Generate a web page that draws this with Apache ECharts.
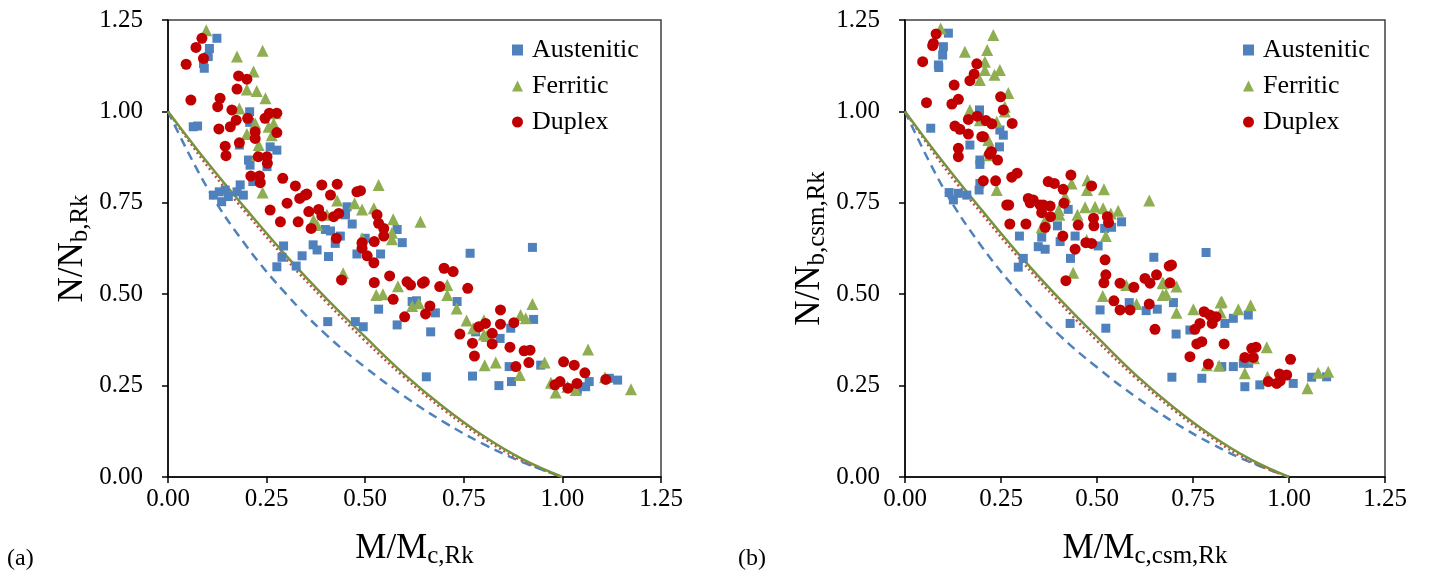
<!DOCTYPE html>
<html>
<head>
<meta charset="utf-8">
<script src="https://cdn.jsdelivr.net/npm/echarts@6/dist/echarts.min.js"></script>
<style>
html,body{margin:0;padding:0;background:#fff;}
#chart{width:1432px;height:577px;}
</style>
</head>
<body>
<div id="chart"></div>
<script>
// ---------- data: panel (a) ----------
const aAust = [[0.124,1.20],[0.105,1.172],[0.102,1.15],[0.09,1.131],[0.092,1.118],
[0.064,0.958],[0.075,0.96],[0.207,0.999],[0.207,0.97],[0.259,0.903],[0.276,0.894],[0.181,0.908],[0.204,0.867],[0.208,0.853],[0.251,0.849],[0.215,0.808],
[0.115,0.771],[0.145,0.785],[0.153,0.767],[0.183,0.799],[0.191,0.771],[0.136,0.753],[0.13,0.78],[0.175,0.78],
[0.454,0.739],[0.45,0.717],[0.467,0.692],[0.399,0.677],[0.412,0.673],[0.424,0.639],[0.437,0.659],[0.581,0.677],[0.594,0.641],[0.539,0.61],[0.479,0.61],[0.5,0.653],
[0.293,0.632],[0.368,0.635],[0.378,0.621],[0.34,0.605],[0.407,0.603],[0.289,0.601],[0.276,0.575],[0.325,0.577],
[0.766,0.612],[0.534,0.459],[0.581,0.416],[0.63,0.482],[0.678,0.449],[0.733,0.48],[0.666,0.397],[0.405,0.425],[0.475,0.425],[0.495,0.411],
[0.924,0.628],[0.927,0.431],[0.869,0.407],[0.78,0.397],[0.842,0.379],[0.655,0.274],[0.772,0.276],[0.839,0.25],[0.871,0.261],[0.865,0.302],[0.945,0.306],[0.979,0.252],[1.038,0.238],[1.059,0.247],[1.068,0.261],[1.119,0.27],[1.14,0.265],[0.619,0.48]];
const aFerr = [[0.097,1.222],[0.175,1.15],[0.24,1.166],[0.217,1.109],[0.20,1.06],[0.225,1.056],[0.247,1.036],[0.181,1.008],[0.221,0.967],[0.268,0.967],[0.2,0.938],[0.263,0.935],[0.23,0.908],[0.225,0.881],[0.24,0.778],[0.272,0.995],[0.255,0.958],
[0.534,0.799],[0.429,0.756],[0.473,0.749],[0.492,0.732],[0.522,0.735],[0.403,0.717],[0.369,0.703],[0.378,0.689],[0.571,0.705],[0.568,0.668],[0.568,0.65],[0.64,0.698],[0.492,0.653],[0.444,0.557],
[0.583,0.522],[0.528,0.498],[0.545,0.5],[0.619,0.468],[0.636,0.475],[0.708,0.525],[0.708,0.498],[0.732,0.461],[0.757,0.428],[0.774,0.407],[0.801,0.429],[0.801,0.39],
[0.808,0.386],[0.803,0.306],[0.831,0.313],[0.892,0.279],[0.894,0.443],[0.907,0.434],[0.924,0.473],[0.955,0.313],[0.971,0.258],[0.983,0.231],[1.013,0.247],[1.034,0.238],[1.065,0.349],[1.108,0.273],[1.174,0.24]];
const aDup = [[0.086,1.2],[0.071,1.175],[0.09,1.145],[0.046,1.129],[0.179,1.097],[0.2,1.088],[0.175,1.061],[0.058,1.031],[0.132,1.036],[0.126,1.013],[0.162,1.004],[0.173,0.976],[0.202,0.981],[0.246,0.981],[0.257,0.995],[0.276,0.995],[0.158,0.958],[0.129,0.952],[0.221,0.944],[0.221,0.926],[0.276,0.942],[0.181,0.914],[0.145,0.905],[0.147,0.879],[0.229,0.876],[0.251,0.876],[0.252,0.858],[0.21,0.823],[0.232,0.823],[0.234,0.805],
[0.291,0.817],[0.323,0.796],[0.352,0.774],[0.334,0.762],[0.39,0.799],[0.429,0.801],[0.412,0.771],[0.479,0.78],[0.302,0.749],[0.488,0.783],[0.348,0.771],
[0.259,0.73],[0.285,0.698],[0.33,0.698],[0.357,0.726],[0.382,0.732],[0.39,0.714],[0.363,0.68],[0.42,0.712],[0.433,0.721],
[0.53,0.717],[0.534,0.694],[0.547,0.68],[0.547,0.659],[0.427,0.653],[0.492,0.641],[0.523,0.644],[0.492,0.626],[0.505,0.605],[0.522,0.586],[0.44,0.539],[0.523,0.532],[0.562,0.55],[0.606,0.534],[0.615,0.525],[0.645,0.53],[0.65,0.534],[0.689,0.521],[0.7,0.571],[0.723,0.562],[0.76,0.516],[0.571,0.486],[0.664,0.468],[0.653,0.446],[0.6,0.438],
[0.74,0.391],[0.772,0.366],[0.788,0.411],[0.805,0.42],[0.822,0.393],[0.822,0.364],[0.843,0.457],
[0.877,0.422],[0.843,0.418],[0.777,0.331],[0.867,0.355],[0.903,0.345],[0.918,0.347],[0.915,0.313],[0.882,0.302],[1.003,0.315],[1.03,0.306],[1.057,0.285],[1.11,0.267],[0.994,0.261],[0.981,0.252],[1.014,0.243],[1.037,0.256]];

// ---------- data: panel (b) ----------
const bAust = [[0.113,1.214],[0.1,1.177],[0.098,1.154],[0.087,1.127],[0.088,1.12],[0.067,0.954],[0.194,1.004],[0.194,0.99],[0.247,0.949],[0.256,0.935],[0.169,0.908],[0.246,0.903],[0.195,0.867],[0.195,0.855],
[0.115,0.778],[0.139,0.776],[0.161,0.771],[0.126,0.758],[0.193,0.785],[0.195,0.803],
[0.298,0.659],[0.356,0.656],[0.347,0.63],[0.365,0.623],[0.404,0.644],[0.397,0.687],[0.443,0.659],[0.425,0.732],[0.503,0.632],[0.538,0.683],[0.564,0.698],[0.52,0.68],[0.431,0.598],[0.308,0.598],[0.295,0.574],
[0.648,0.601],[0.784,0.614],[0.584,0.477],[0.508,0.457],[0.628,0.455],[0.657,0.459],[0.699,0.477],[0.43,0.42],[0.523,0.407],[0.706,0.391],[0.742,0.402],[0.833,0.42],
[0.855,0.434],[0.894,0.443],[0.695,0.273],[0.773,0.27],[0.825,0.302],[0.855,0.302],[0.881,0.311],[0.895,0.311],[0.885,0.247],[0.924,0.252],[1.011,0.256],[1.059,0.273],[1.098,0.274]];
const bFerr = [[0.093,1.227],[0.23,1.209],[0.156,1.163],[0.214,1.168],[0.208,1.136],[0.208,1.113],[0.195,1.086],[0.233,1.1],[0.247,1.113],[0.269,1.05],[0.26,1.013],[0.26,1.0],[0.169,1.004],[0.195,0.976],[0.239,0.972],[0.217,0.922],[0.217,0.894],[0.22,0.88],[0.239,0.785],
[0.434,0.803],[0.475,0.812],[0.474,0.785],[0.495,0.739],[0.518,0.787],[0.417,0.767],[0.636,0.756],[0.469,0.738],[0.516,0.735],[0.555,0.728],[0.536,0.721],[0.449,0.717],[0.402,0.717],[0.4,0.73],[0.365,0.703],[0.356,0.683],[0.523,0.659],[0.473,0.648],[0.438,0.559],
[0.515,0.495],[0.576,0.525],[0.603,0.473],[0.671,0.531],[0.671,0.498],[0.68,0.5],[0.707,0.521],[0.707,0.449],[0.751,0.459],[0.822,0.477],[0.822,0.45],
[0.673,0.53],[0.825,0.48],[0.868,0.459],[0.9,0.47],[0.942,0.355],[0.909,0.325],[0.786,0.306],[0.818,0.304],[0.885,0.284],[0.944,0.274],[1.048,0.243],[1.076,0.285],[1.102,0.288]];
const bDup = [[0.081,1.212],[0.074,1.186],[0.072,1.18],[0.046,1.136],[0.187,1.13],[0.18,1.102],[0.169,1.084],[0.128,1.072],[0.056,1.024],[0.139,1.033],[0.122,1.02],[0.249,1.04],[0.256,1.004],[0.165,0.978],[0.188,0.987],[0.211,0.975],[0.226,0.966],[0.279,0.967],[0.13,0.96],[0.143,0.951],[0.165,0.938],[0.2,0.931],[0.204,0.931],[0.139,0.899],[0.139,0.876],[0.22,0.883],[0.225,0.89],[0.241,0.867],
[0.204,0.81],[0.236,0.81],[0.278,0.82],[0.292,0.831],[0.373,0.808],[0.389,0.803],[0.432,0.826],[0.412,0.787],[0.486,0.796],[0.321,0.762],[0.326,0.75],[0.265,0.744],[0.27,0.744],[0.352,0.744],[0.36,0.744],[0.414,0.749],
[0.334,0.758],[0.378,0.741],[0.356,0.723],[0.379,0.712],[0.365,0.683],[0.273,0.692],[0.315,0.692],[0.451,0.689],[0.411,0.659],[0.491,0.708],[0.492,0.687],[0.527,0.712],[0.53,0.696],[0.471,0.641],[0.486,0.639],[0.443,0.623],[0.521,0.594],[0.523,0.553],[0.518,0.531],[0.419,0.537],
[0.56,0.53],[0.596,0.519],[0.625,0.543],[0.638,0.53],[0.655,0.553],[0.688,0.577],[0.694,0.58],[0.69,0.531],[0.544,0.482],[0.56,0.457],[0.586,0.457],[0.636,0.473],[0.651,0.404],
[0.755,0.404],[0.768,0.42],[0.779,0.452],[0.794,0.443],[0.81,0.438],[0.8,0.42],[0.76,0.364],[0.773,0.37],[0.831,0.364],
[0.742,0.329],[0.79,0.309],[0.903,0.352],[0.914,0.355],[0.885,0.327],[0.907,0.327],[1.004,0.322],[0.975,0.282],[0.994,0.279],[0.946,0.261],[0.968,0.256],[0.977,0.263]];

// ---------- design curves ----------
const curveM     = [0, 0.1, 0.2, 0.3, 0.4, 0.5, 0.6, 0.7, 0.8, 0.9, 1.0];
const aCurveAust = [1, 0.79, 0.63, 0.50, 0.39, 0.30, 0.22, 0.15, 0.09, 0.04, 0];
const aCurveFerr = [1, 0.86, 0.73, 0.605, 0.49, 0.383, 0.28, 0.19, 0.112, 0.048, 0];
const aCurveDup  = [1, 0.85, 0.72, 0.595, 0.48, 0.372, 0.272, 0.183, 0.106, 0.043, 0];
const bCurveAust = [1, 0.79, 0.63, 0.50, 0.39, 0.30, 0.22, 0.15, 0.09, 0.04, 0];
const bCurveFerr = [1, 0.86, 0.73, 0.605, 0.49, 0.383, 0.28, 0.19, 0.112, 0.048, 0];
const bCurveDup  = [1, 0.85, 0.72, 0.595, 0.48, 0.372, 0.272, 0.183, 0.106, 0.043, 0];

const xTicks = ['0.00','0.25','0.50','0.75','1.00','1.25'];
const yTicks = ['0.00','0.25','0.50','0.75','1.00','1.25'];
const legendNames = ['Austenitic','Ferritic','Duplex'];

// ---------- styling ----------
const FONT = '"Liberation Serif","Times New Roman",serif';
const C_BLUE = '#4F81BD', C_GREEN = '#8FAE52', C_RED = '#C00000';
const C_LGREEN = '#77933C', C_LRED = '#C0504D';

const zip = (xs, ys) => xs.map((x, i) => [x, ys[i]]);

const nameStyle = {color: '#000', fontFamily: FONT, fontSize: 35,
  rich: {sub: {fontFamily: FONT, fontSize: 25, color: '#000', verticalAlign: 'bottom', padding: [16, 0, 0, 0]}}};

function xAxisCfg(gi, nameRich) {
  return {
    gridIndex: gi, type: 'value', min: 0, max: 1.25, interval: 0.25,
    axisLine: {show: true, onZero: false, lineStyle: {color: '#000', width: 1.5}},
    axisTick: {show: true, length: 6, lineStyle: {color: '#000', width: 1.5}},
    axisLabel: {color: '#000', fontFamily: FONT, fontSize: 25, margin: 10,
      formatter: v => xTicks[Math.round(v / 0.25)]},
    splitLine: {show: false},
    name: nameRich, nameLocation: 'middle', nameGap: 51,
    nameTextStyle: nameStyle
  };
}
function yAxisCfg(gi, nameRich) {
  return {
    gridIndex: gi, type: 'value', min: 0, max: 1.25, interval: 0.25,
    axisLine: {show: true, onZero: false, lineStyle: {color: '#000', width: 1.5}},
    axisTick: {show: true, length: 6, lineStyle: {color: '#000', width: 1.5}},
    axisLabel: {color: '#000', fontFamily: FONT, fontSize: 25, margin: 25,
      formatter: v => yTicks[Math.round(v / 0.25)]},
    splitLine: {show: false},
    name: nameRich, nameLocation: 'middle', nameGap: 75, nameRotate: 90,
    nameTextStyle: nameStyle
  };
}
function scatter(name, data, gi, symbol, size, color) {
  return {type: 'scatter', name, data, xAxisIndex: gi, yAxisIndex: gi,
    symbol, symbolSize: size, itemStyle: {color, opacity: 1}, z: 3};
}
function curve(name, data, gi, color, type, width) {
  return {type: 'line', name, data, xAxisIndex: gi, yAxisIndex: gi, smooth: 0.4,
    showSymbol: false, symbol: 'none', lineStyle: {color, type, width}, z: 2, silent: true};
}
function legendCfg(left) {
  return {
    data: legendNames, orient: 'vertical', left, top: 32, itemGap: 10,
    itemWidth: 11, itemHeight: 11,
    textStyle: {color: '#000', fontFamily: FONT, fontSize: 26, padding: [0, 0, 0, 4]},
    selectedMode: false
  };
}

const chart = echarts.init(document.getElementById('chart'), null, {renderer: 'canvas'});
chart.setOption({
  animation: false,
  backgroundColor: '#fff',
  grid: [
    {left: 168, top: 20, width: 493, height: 457, show: true, borderColor: '#404040', borderWidth: 1.5, backgroundColor: 'transparent'},
    {left: 905, top: 20, width: 480, height: 457, show: true, borderColor: '#404040', borderWidth: 1.5, backgroundColor: 'transparent'}
  ],
  xAxis: [xAxisCfg(0, 'M/M{sub|c,Rk}'), xAxisCfg(1, 'M/M{sub|c,csm,Rk}')],
  yAxis: [yAxisCfg(0, 'N/N{sub|b,Rk}'), yAxisCfg(1, 'N/N{sub|b,csm,Rk}')],
  legend: [legendCfg(507), legendCfg(1238)],
  graphic: [
    {type: 'text', left: 7, top: 547, style: {text: '(a)', font: '24px ' + FONT, fill: '#000'}},
    {type: 'text', left: 738, top: 547, style: {text: '(b)', font: '24px ' + FONT, fill: '#000'}}
  ],
  series: [
    curve('curveA_aust', zip(curveM, aCurveAust), 0, C_BLUE, [9, 6], 2.5),
    curve('curveA_dup', zip(curveM, aCurveDup), 0, C_LRED, [2, 3], 2.5),
    curve('curveA_ferr', zip(curveM, aCurveFerr), 0, C_LGREEN, 'solid', 2.5),
    curve('curveB_aust', zip(curveM, bCurveAust), 1, C_BLUE, [9, 6], 2.5),
    curve('curveB_dup', zip(curveM, bCurveDup), 1, C_LRED, [2, 3], 2.5),
    curve('curveB_ferr', zip(curveM, bCurveFerr), 1, C_LGREEN, 'solid', 2.5),
    scatter('Austenitic', aAust, 0, 'rect', 9, C_BLUE),
    scatter('Ferritic', aFerr, 0, 'triangle', 12, C_GREEN),
    scatter('Duplex', aDup, 0, 'circle', 11, C_RED),
    scatter('Austenitic', bAust, 1, 'rect', 9, C_BLUE),
    scatter('Ferritic', bFerr, 1, 'triangle', 12, C_GREEN),
    scatter('Duplex', bDup, 1, 'circle', 11, C_RED)
  ]
});
</script>
</body>
</html>
